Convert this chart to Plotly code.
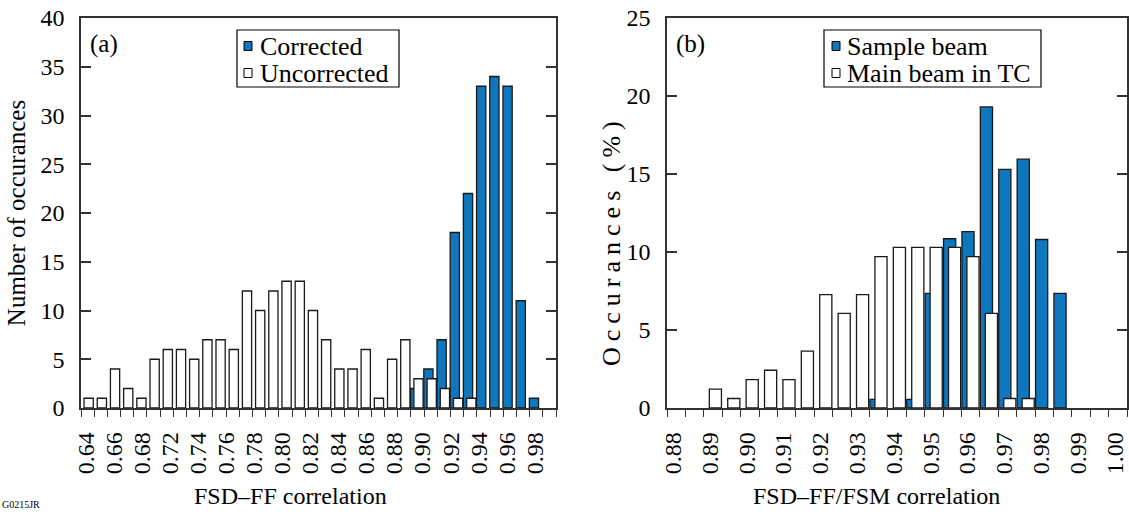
import plotly.graph_objects as go

W, H = 1129, 512

# ---------------- Panel (a) data ----------------
x_uncorr = [0.64, 0.65, 0.66, 0.67, 0.68, 0.69, 0.70, 0.71, 0.72, 0.73,
            0.74, 0.75, 0.76, 0.77, 0.78, 0.79, 0.80, 0.81, 0.82, 0.83,
            0.84, 0.85, 0.86, 0.87, 0.88, 0.89, 0.90, 0.91, 0.92, 0.93]
uncorrected = [1, 1, 4, 2, 1, 5, 6, 6, 5, 7,
               7, 6, 12, 10, 12, 13, 13, 10, 7, 4,
               4, 6, 1, 5, 7, 3, 3, 2, 1, 1]
x_corr = [0.89, 0.90, 0.91, 0.92, 0.93, 0.94, 0.95, 0.96, 0.97, 0.98]
corrected = [2, 4, 7, 18, 22, 33, 34, 33, 11, 1]
ticktext_a = ["0.64", "0.66", "0.68", "0.72", "0.74", "0.76", "0.78", "0.80", "0.82",
              "0.84", "0.86", "0.88", "0.90", "0.92", "0.94", "0.96", "0.98"]
yticks_a = [0, 5, 10, 15, 20, 25, 30, 35, 40]
names_a = ["Corrected", "Uncorrected"]

# ---------------- Panel (b) data ----------------
x_main = [0.890, 0.895, 0.900, 0.905, 0.910, 0.915, 0.920, 0.925, 0.930,
          0.935, 0.940, 0.945, 0.950, 0.955, 0.960, 0.965, 0.970, 0.975]
main_tc = [1.21, 0.61, 1.82, 2.42, 1.82, 3.64, 7.27, 6.06, 7.27,
           9.70, 10.30, 10.30, 10.30, 10.30, 9.70, 6.06, 0.61, 0.61]
x_sample = [0.935, 0.945, 0.950, 0.955, 0.960, 0.965, 0.970, 0.975, 0.980, 0.985]
sample = [0.55, 0.55, 7.35, 10.85, 11.3, 19.3, 15.3, 15.95, 10.8, 7.35]
tickvals_b = [0.88, 0.89, 0.90, 0.91, 0.92, 0.93, 0.94, 0.95, 0.96, 0.97, 0.98, 0.99, 1.00]
ticktext_b = ["0.88", "0.89", "0.90", "0.91", "0.92", "0.93", "0.94", "0.95", "0.96",
              "0.97", "0.98", "0.99", "1.00"]
yticks_b = [0, 5, 10, 15, 20, 25]
names_b = ["Sample beam", "Main beam in TC"]

BLUE = "#0E77BD"
EDGE = "#1a1a1a"
AX = "#333333"
FONT = "Liberation Serif"

bw_a = 0.01
bw_b = 0.005

fig = go.Figure()

fig.add_trace(go.Bar(x=x_corr, y=corrected, name=names_a[0], showlegend=False,
                     width=0.70 * bw_a, offset=-0.52 * bw_a,
                     marker=dict(color=BLUE, line=dict(color=EDGE, width=1.3)),
                     xaxis="x", yaxis="y"))
fig.add_trace(go.Bar(x=x_uncorr, y=uncorrected, name=names_a[1], showlegend=False,
                     width=0.70 * bw_a, offset=-0.27 * bw_a,
                     marker=dict(color="white", line=dict(color=EDGE, width=1.3)),
                     xaxis="x", yaxis="y"))
fig.add_trace(go.Bar(x=x_sample, y=sample, name=names_b[0], showlegend=False,
                     width=0.66 * bw_b, offset=-0.47 * bw_b,
                     marker=dict(color=BLUE, line=dict(color=EDGE, width=1.3)),
                     xaxis="x2", yaxis="y2"))
fig.add_trace(go.Bar(x=x_main, y=main_tc, name=names_b[1], showlegend=False,
                     width=0.66 * bw_b, offset=-0.20 * bw_b,
                     marker=dict(color="white", line=dict(color=EDGE, width=1.3)),
                     xaxis="x2", yaxis="y2"))

# label positions for panel (a): 17 labels evenly spread along the axis
n_lab = len(ticktext_a)
lab0, lab1 = 0.64 - 0.0012, 0.64 + 0.339
tickvals_a = [lab0 + k * (lab1 - lab0) / (n_lab - 1) for k in range(n_lab)]

ydom = [1 - 408 / H, 1 - 18 / H]
tickfont = dict(family=FONT, size=24, color="black")

common_x = dict(showline=True, linecolor=AX, linewidth=1.5, mirror=True,
                showgrid=False, zeroline=False, ticks="outside", ticklen=7,
                tickcolor="rgba(0,0,0,0)", tickangle=-90, tickfont=tickfont,
                automargin=False, ticklabelstandoff=6, ticklabeloverflow="allow")
common_y = dict(showline=True, linecolor=AX, linewidth=1.5, mirror="ticks",
                showgrid=False, zeroline=False, ticks="inside", ticklen=10,
                tickwidth=1.5, tickcolor=AX, tickfont=tickfont,
                automargin=False, ticklabelstandoff=10, ticklabeloverflow="allow",
                tickmode="array")


def px(x):
    return x / W


def py(y):
    return 1 - y / H


# hand-built legend boxes (positions in pixels of the reference)
shapes = []
annotations = []


def legend_box(x0, x1, sq_x, txt_x, names, colors):
    shapes.append(dict(type="rect", xref="paper", yref="paper",
                       x0=px(x0), x1=px(x1), y0=py(87), y1=py(30),
                       line=dict(color="black", width=1.2), fillcolor="white",
                       layer="above"))
    for row, (nm, col) in enumerate(zip(names, colors)):
        yc = 46 + 27 * row
        shapes.append(dict(type="rect", xref="paper", yref="paper",
                           x0=px(sq_x), x1=px(sq_x + 8), y0=py(yc + 4.5), y1=py(yc - 4.5),
                           line=dict(color="black", width=1), fillcolor=col,
                           layer="above"))
        annotations.append(dict(text=nm, x=px(txt_x), y=py(yc), xref="paper", yref="paper",
                                xanchor="left", yanchor="middle", showarrow=False,
                                font=dict(family=FONT, size=26, color="black")))


legend_box(237, 399, 244, 258, names_a, [BLUE, "white"])
legend_box(824, 1041, 832, 845, names_b, [BLUE, "white"])

annotations += [
    dict(text="(a)", x=px(88), y=py(44), xref="paper", yref="paper",
         xanchor="left", yanchor="middle", showarrow=False,
         font=dict(family=FONT, size=25, color="black")),
    dict(text="(b)", x=px(674), y=py(44), xref="paper", yref="paper",
         xanchor="left", yanchor="middle", showarrow=False,
         font=dict(family=FONT, size=25, color="black")),
    dict(text="FSD\u2013FF correlation", x=px(290), y=py(481),
         xref="paper", yref="paper", xanchor="center", yanchor="top",
         showarrow=False, font=dict(family=FONT, size=24, color="black")),
    dict(text="FSD\u2013FF/FSM correlation", x=px(876), y=py(481),
         xref="paper", yref="paper", xanchor="center", yanchor="top",
         showarrow=False, font=dict(family=FONT, size=24, color="black")),
    dict(text="<span style='letter-spacing:6px'>Occurances (%)</span>",
         x=px(611), y=py(240), xref="paper", yref="paper",
         xanchor="center", yanchor="middle", textangle=-90, showarrow=False,
         font=dict(family=FONT, size=26, color="black")),
    dict(text="G0215JR", x=0, y=0, xref="paper", yref="paper",
         xanchor="left", yanchor="bottom", showarrow=False,
         font=dict(family=FONT, size=10, color="black")),
]

fig.update_layout(
    width=W, height=H,
    margin=dict(l=0, r=0, t=0, b=0),
    paper_bgcolor="white", plot_bgcolor="white",
    barmode="overlay",
    font=dict(family=FONT, color="black"),
    xaxis=dict(domain=[px(81), px(556)], range=[0.635, 0.995], anchor="y",
               tickmode="array", tickvals=tickvals_a, ticktext=ticktext_a,
               minor=dict(tickmode="linear", tick0=0.635, dtick=bw_a, ticks="outside",
                          ticklen=7, tickwidth=1.3, tickcolor=AX),
               **common_x),
    yaxis=dict(domain=ydom, range=[0, 40], anchor="x", tickvals=yticks_a,
               title=dict(text="Number of occurances", font=dict(family=FONT, size=25),
                          standoff=8),
               **common_y),
    xaxis2=dict(domain=[px(667), px(1127)], range=[0.8775, 1.0025], anchor="y2",
                tickmode="array", tickvals=tickvals_b, ticktext=ticktext_b,
                ticklabelshift=-3,
                minor=dict(tickmode="linear", tick0=0.8775, dtick=bw_b, ticks="outside",
                           ticklen=7, tickwidth=1.3, tickcolor=AX),
                **common_x),
    yaxis2=dict(domain=ydom, range=[0, 25], anchor="x2", tickvals=yticks_b,
                **common_y),
    shapes=shapes,
    annotations=annotations,
)

fig.write_html("out.html")
